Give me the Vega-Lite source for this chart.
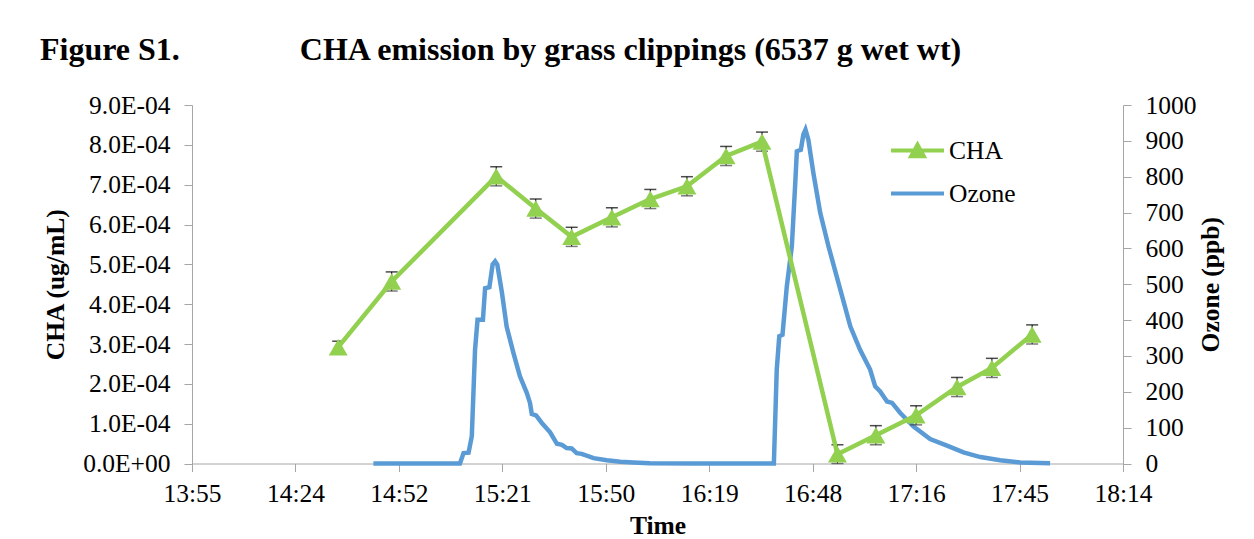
{
  "$schema": "https://vega.github.io/schema/vega-lite/v6.json",
  "width": 931,
  "height": 358.5,
  "autosize": {"type": "none"},
  "padding": {"left": 192, "top": 105, "right": 131, "bottom": 75.5},
  "background": "white",
  "title": {
    "text": "Figure S1.\u00a0\u00a0\u00a0\u00a0\u00a0\u00a0\u00a0\u00a0\u00a0\u00a0\u00a0\u00a0\u00a0\u00a0\u00a0CHA emission by grass clippings (6537 g wet wt)",
    "anchor": "start",
    "frame": "group",
    "dx": -152,
    "offset": 1,
    "font": "Liberation Serif",
    "fontSize": 32,
    "fontWeight": "bold",
    "color": "black",
    "baseline": "alphabetic"
  },
  "config": {
    "view": {"stroke": null},
    "font": "Liberation Serif",
    "axis": {
      "grid": false,
      "domainColor": "#a6a6a6",
      "tickColor": "#a6a6a6",
      "tickSize": 8,
      "labelFont": "Liberation Serif",
      "labelFontSize": 25.5,
      "labelColor": "black",
      "titleFont": "Liberation Serif",
      "titleFontSize": 25.5,
      "titleFontWeight": "bold",
      "titleColor": "black"
    },
    "legend": {
      "labelFont": "Liberation Serif",
      "labelFontSize": 25.5,
      "labelColor": "black"
    }
  },
  "datasets": {
    "cha": [
      {"t": 875.9, "v": 0.000292, "lo": 0.000277, "hi": 0.000307},
      {"t": 890.8, "v": 0.000457, "lo": 0.000433, "hi": 0.000481},
      {"t": 919.9, "v": 0.000721, "lo": 0.000697, "hi": 0.000745},
      {"t": 930.9, "v": 0.000640, "lo": 0.000616, "hi": 0.000664},
      {"t": 940.9, "v": 0.000569, "lo": 0.000545, "hi": 0.000593},
      {"t": 952.1, "v": 0.000618, "lo": 0.000594, "hi": 0.000642},
      {"t": 962.8, "v": 0.000664, "lo": 0.000640, "hi": 0.000688},
      {"t": 973.0, "v": 0.000696, "lo": 0.000672, "hi": 0.000720},
      {"t": 983.9, "v": 0.000772, "lo": 0.000748, "hi": 0.000796},
      {"t": 993.9, "v": 0.000808, "lo": 0.000784, "hi": 0.000832},
      {"t": 1014.9, "v": 0.000023, "lo": 0.000000, "hi": 0.000047},
      {"t": 1025.6, "v": 0.000071, "lo": 0.000047, "hi": 0.000095},
      {"t": 1036.8, "v": 0.000121, "lo": 0.000097, "hi": 0.000145},
      {"t": 1048.2, "v": 0.000192, "lo": 0.000168, "hi": 0.000216},
      {"t": 1057.9, "v": 0.000240, "lo": 0.000216, "hi": 0.000264},
      {"t": 1069.1, "v": 0.000324, "lo": 0.000300, "hi": 0.000348}
    ],
    "ozone": [
      {"t": 885.7, "v": 0}, {"t": 895, "v": 0}, {"t": 905, "v": 0}, {"t": 909.8, "v": 0},
      {"t": 910.8, "v": 29}, {"t": 912.2, "v": 30}, {"t": 913.1, "v": 76}, {"t": 914, "v": 317},
      {"t": 914.7, "v": 401}, {"t": 916.2, "v": 401}, {"t": 916.8, "v": 489}, {"t": 918, "v": 492},
      {"t": 918.9, "v": 555}, {"t": 919.6, "v": 564}, {"t": 920.2, "v": 555}, {"t": 921.5, "v": 476},
      {"t": 922.8, "v": 382}, {"t": 924.7, "v": 308}, {"t": 926.5, "v": 243}, {"t": 928.4, "v": 197},
      {"t": 929.3, "v": 169}, {"t": 929.8, "v": 138}, {"t": 931, "v": 134}, {"t": 932.6, "v": 113},
      {"t": 934.9, "v": 87}, {"t": 936.8, "v": 55}, {"t": 938.2, "v": 52}, {"t": 939.5, "v": 43},
      {"t": 940.9, "v": 42}, {"t": 942.3, "v": 29}, {"t": 943.7, "v": 27}, {"t": 947, "v": 15},
      {"t": 950.7, "v": 9}, {"t": 954.4, "v": 5}, {"t": 958.1, "v": 3}, {"t": 962.7, "v": 1},
      {"t": 975, "v": 0}, {"t": 996.6, "v": 0}, {"t": 997.2, "v": 0}, {"t": 998, "v": 262},
      {"t": 998.7, "v": 355}, {"t": 999.6, "v": 359}, {"t": 1000.8, "v": 494}, {"t": 1002.2, "v": 606},
      {"t": 1003.1, "v": 773}, {"t": 1003.6, "v": 871}, {"t": 1004.7, "v": 875}, {"t": 1005.4, "v": 917},
      {"t": 1006, "v": 931}, {"t": 1006.8, "v": 903}, {"t": 1008.2, "v": 810}, {"t": 1010.1, "v": 699},
      {"t": 1012.4, "v": 606}, {"t": 1015.2, "v": 503}, {"t": 1018.5, "v": 382}, {"t": 1021.2, "v": 317},
      {"t": 1024, "v": 262}, {"t": 1025.4, "v": 215}, {"t": 1026.8, "v": 201}, {"t": 1028.7, "v": 173},
      {"t": 1030.1, "v": 169}, {"t": 1032.4, "v": 141}, {"t": 1036.1, "v": 103}, {"t": 1040.7, "v": 68},
      {"t": 1045.4, "v": 50}, {"t": 1050, "v": 31}, {"t": 1054.7, "v": 18}, {"t": 1060.2, "v": 9},
      {"t": 1065.8, "v": 3}, {"t": 1074.1, "v": 1}
    ],
    "legend": [
      {"series": "CHA", "t": 0, "v": 0.0005},
      {"series": "Ozone", "t": 0, "v": 0.0005}
    ]
  },
  "layer": [
    {
      "data": {"name": "ozone"},
      "mark": {"type": "line", "color": "#5B9BD5", "strokeWidth": 4.5},
      "encoding": {
        "x": {
          "field": "t", "type": "quantitative",
          "scale": {"domain": [835.2, 1094.4], "nice": false, "zero": false},
          "axis": {
            "title": "Time",
            "values": [835.2, 864, 892.8, 921.6, 950.4, 979.2, 1008, 1036.8, 1065.6, 1094.4],
            "labelExpr": "floor((datum.value + 0.001) / 60) + ':' + (floor(datum.value + 0.001) % 60 < 10 ? '0' : '') + (floor(datum.value + 0.001) % 60)",
            "labelPadding": 10,
            "titlePadding": 6,
            "labelFlush": false,
            "labelOverlap": false
          }
        },
        "y": {
          "field": "v", "type": "quantitative",
          "scale": {"domain": [0, 1000], "nice": false},
          "axis": {
            "orient": "right",
            "title": "Ozone (ppb)",
            "format": "d",
            "values": [0, 100, 200, 300, 400, 500, 600, 700, 800, 900, 1000],
            "labelPadding": 14,
            "titleAngle": 270,
            "titleBaseline": "top",
            "titlePadding": 2,
            "labelFlush": false,
            "labelOverlap": false
          }
        }
      }
    },
    {
      "data": {"name": "cha"},
      "encoding": {
        "x": {
          "field": "t", "type": "quantitative",
          "scale": {"domain": [835.2, 1094.4], "nice": false, "zero": false},
          "axis": {
            "title": "Time",
            "values": [835.2, 864, 892.8, 921.6, 950.4, 979.2, 1008, 1036.8, 1065.6, 1094.4],
            "labelExpr": "floor((datum.value + 0.001) / 60) + ':' + (floor(datum.value + 0.001) % 60 < 10 ? '0' : '') + (floor(datum.value + 0.001) % 60)",
            "labelPadding": 10,
            "titlePadding": 6,
            "labelFlush": false,
            "labelOverlap": false
          }
        }
      },
      "layer": [
        {
          "mark": {"type": "rule", "color": "black", "strokeWidth": 1},
          "encoding": {
            "y": {
              "field": "lo", "type": "quantitative",
              "scale": {"domain": [0, 0.0009], "nice": false},
              "axis": {
                "orient": "left",
                "title": "CHA (ug/mL)",
                "values": [0, 0.0001, 0.0002, 0.0003, 0.0004, 0.0005, 0.0006, 0.0007, 0.0008, 0.0009],
                "labelExpr": "datum.value == 0 ? '0.0E+00' : format(datum.value * 10000, '.1f') + 'E-04'",
                "labelPadding": 14,
                "titlePadding": 14,
                "labelFlush": false,
                "labelOverlap": false
              }
            },
            "y2": {"field": "hi"}
          }
        },
        {
          "mark": {"type": "tick", "orient": "horizontal", "color": "black", "size": 12, "thickness": 1.5},
          "encoding": {
            "y": {
              "field": "hi", "type": "quantitative",
              "scale": {"domain": [0, 0.0009], "nice": false},
              "axis": {
                "orient": "left",
                "title": "CHA (ug/mL)",
                "values": [0, 0.0001, 0.0002, 0.0003, 0.0004, 0.0005, 0.0006, 0.0007, 0.0008, 0.0009],
                "labelExpr": "datum.value == 0 ? '0.0E+00' : format(datum.value * 10000, '.1f') + 'E-04'",
                "labelPadding": 14,
                "titlePadding": 14,
                "labelFlush": false,
                "labelOverlap": false
              }
            }
          }
        },
        {
          "mark": {"type": "tick", "orient": "horizontal", "color": "#444444", "size": 12, "thickness": 1.5},
          "encoding": {
            "y": {
              "field": "lo", "type": "quantitative",
              "scale": {"domain": [0, 0.0009], "nice": false},
              "axis": {
                "orient": "left",
                "title": "CHA (ug/mL)",
                "values": [0, 0.0001, 0.0002, 0.0003, 0.0004, 0.0005, 0.0006, 0.0007, 0.0008, 0.0009],
                "labelExpr": "datum.value == 0 ? '0.0E+00' : format(datum.value * 10000, '.1f') + 'E-04'",
                "labelPadding": 14,
                "titlePadding": 14,
                "labelFlush": false,
                "labelOverlap": false
              }
            }
          }
        },
        {
          "mark": {"type": "line", "color": "#92D050", "strokeWidth": 4.5},
          "encoding": {
            "y": {
              "field": "v", "type": "quantitative",
              "scale": {"domain": [0, 0.0009], "nice": false},
              "axis": {
                "orient": "left",
                "title": "CHA (ug/mL)",
                "values": [0, 0.0001, 0.0002, 0.0003, 0.0004, 0.0005, 0.0006, 0.0007, 0.0008, 0.0009],
                "labelExpr": "datum.value == 0 ? '0.0E+00' : format(datum.value * 10000, '.1f') + 'E-04'",
                "labelPadding": 14,
                "titlePadding": 14,
                "labelFlush": false,
                "labelOverlap": false
              }
            }
          }
        },
        {
          "mark": {"type": "point", "shape": "triangle-up", "filled": true, "color": "#92D050", "opacity": 1, "size": 360},
          "encoding": {
            "y": {
              "field": "v", "type": "quantitative",
              "scale": {"domain": [0, 0.0009], "nice": false},
              "axis": {
                "orient": "left",
                "title": "CHA (ug/mL)",
                "values": [0, 0.0001, 0.0002, 0.0003, 0.0004, 0.0005, 0.0006, 0.0007, 0.0008, 0.0009],
                "labelExpr": "datum.value == 0 ? '0.0E+00' : format(datum.value * 10000, '.1f') + 'E-04'",
                "labelPadding": 14,
                "titlePadding": 14,
                "labelFlush": false,
                "labelOverlap": false
              }
            }
          }
        },
        {
          "data": {"name": "legend"},
          "mark": {"type": "point", "filled": false, "clip": true, "opacity": 1, "strokeWidth": 4},
          "encoding": {
            "y": {
              "field": "v", "type": "quantitative",
              "scale": {"domain": [0, 0.0009], "nice": false},
              "axis": {
                "orient": "left",
                "title": "CHA (ug/mL)",
                "values": [0, 0.0001, 0.0002, 0.0003, 0.0004, 0.0005, 0.0006, 0.0007, 0.0008, 0.0009],
                "labelExpr": "datum.value == 0 ? '0.0E+00' : format(datum.value * 10000, '.1f') + 'E-04'",
                "labelPadding": 14,
                "titlePadding": 14,
                "labelFlush": false,
                "labelOverlap": false
              }
            },
            "color": {
              "field": "series", "type": "nominal",
              "scale": {"domain": ["CHA", "Ozone"], "range": ["#92D050", "#5B9BD5"]},
              "legend": {
                "title": null,
                "orient": "none",
                "legendX": 697,
                "legendY": 17,
                "padding": 0,
                "rowPadding": -16,
                "labelOffset": 3,
                "symbolSize": 2809,
                "symbolStrokeWidth": 4
              }
            },
            "shape": {
              "field": "series", "type": "nominal",
              "scale": {"domain": ["CHA", "Ozone"], "range": ["M-1,0H1M-0.24,0.22L0,-0.22L0.24,0.22ZM0,-0.1V0.18M-0.13,0.15H0.13M-0.06,0.05H0.06", "M-1,0H1"]},
              "legend": {
                "title": null,
                "orient": "none",
                "legendX": 697,
                "legendY": 17,
                "padding": 0,
                "rowPadding": -16,
                "labelOffset": 3,
                "symbolSize": 2809,
                "symbolStrokeWidth": 4
              }
            }
          }
        }
      ]
    }
  ],
  "resolve": {"scale": {"y": "independent"}}
}
